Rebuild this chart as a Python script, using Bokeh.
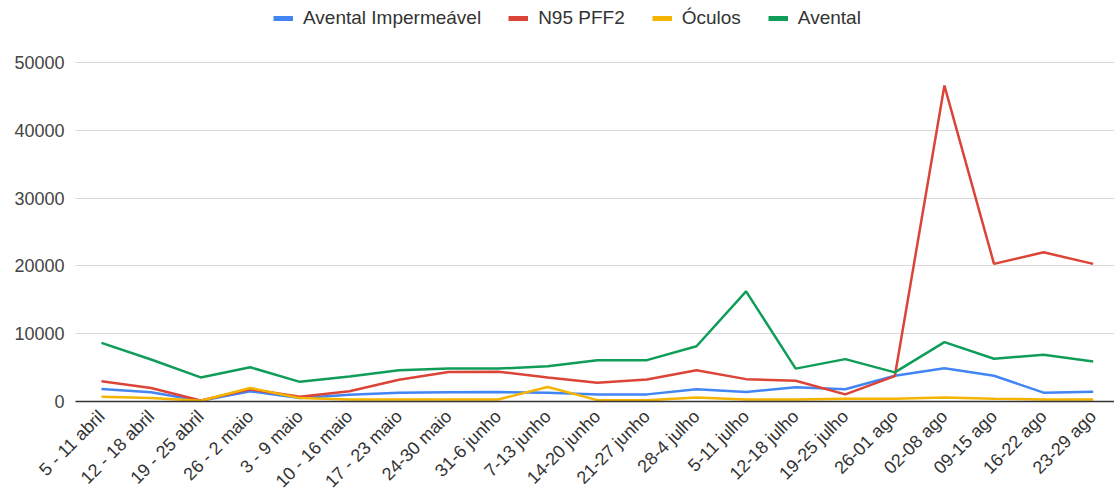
from bokeh.plotting import figure
from bokeh.models import (Range1d, FixedTicker, Legend, LegendItem, ColumnDataSource)
from bokeh.embed import file_html
from bokeh.resources import INLINE
import math

weeks = ["5 - 11 abril", "12 - 18 abril", "19 - 25 abril", "26 - 2 maio", "3 - 9 maio",
         "10 - 16 maio", "17 - 23 maio", "24-30 maio", "31-6 junho", "7-13 junho",
         "14-20 junho", "21-27 junho", "28-4 julho", "5-11 julho", "12-18 julho",
         "19-25 julho", "26-01 ago", "02-08 ago", "09-15 ago", "16-22 ago", "23-29 ago"]

avental_impermeavel = [1850, 1350, 100, 1500, 500, 1000, 1300, 1350, 1400, 1300, 1050,
                       1050, 1800, 1400, 2100, 1800, 3800, 4900, 3800, 1300, 1450]
n95_pff2 = [3000, 2000, 150, 1800, 700, 1500, 3200, 4350, 4400, 3550, 2750,
            3250, 4600, 3300, 3050, 1050, 3750, 46600, 20300, 22000, 20300]
oculos = [700, 500, 100, 2000, 500, 300, 300, 300, 300, 2150, 200,
          200, 600, 300, 300, 400, 400, 600, 400, 300, 300]
avental = [8650, 6200, 3550, 5050, 2900, 3700, 4600, 4850, 4850, 5200, 6100,
           6100, 8150, 16250, 4850, 6250, 4300, 8750, 6300, 6900, 5900]

series_names = ["Avental Impermeável", "N95 PFF2", "Óculos", "Avental"]
series_values = [avental_impermeavel, n95_pff2, oculos, avental]
colors = ["#4285F4", "#DB4437", "#F4B400", "#0F9D58"]
y_ticks = [0, 10000, 20000, 30000, 40000, 50000]

idx = list(range(len(weeks)))

# frame spans the full top of the figure so the legend sits inside it;
# the value axis shows ticks only up to 50000
y_top = 50000 * 401 / 339

p = figure(frame_width=1039, frame_height=401, output_backend="svg", toolbar_location=None,
           x_range=Range1d(-0.524, 20.43), y_range=Range1d(0, y_top),
           min_border_left=75, min_border_right=0, min_border_top=0, min_border_bottom=80)
p.outline_line_color = None
p.background_fill_color = "white"

# axes
p.yaxis.ticker = FixedTicker(ticks=y_ticks)
p.yaxis.axis_line_color = None
p.yaxis.major_tick_line_color = None
p.yaxis.major_tick_out = 0
p.yaxis.major_tick_in = 0
p.yaxis.minor_tick_line_color = None
p.yaxis.major_label_text_font = "Liberation Sans"
p.yaxis.major_label_text_font_size = "18px"
p.yaxis.major_label_text_color = "#444444"
p.yaxis.major_label_standoff = 11

p.xaxis.ticker = FixedTicker(ticks=idx)
p.xaxis.major_label_overrides = {i: w for i, w in enumerate(weeks)}
p.xaxis.major_label_orientation = math.pi / 4
p.xaxis.axis_line_color = "#333333"
p.xaxis.axis_line_width = 1.5
p.xaxis.major_tick_line_color = None
p.xaxis.major_tick_out = 0
p.xaxis.major_tick_in = 0
p.xaxis.minor_tick_line_color = None
p.xaxis.minor_tick_out = 0
p.xaxis.major_label_text_font = "Liberation Sans"
p.xaxis.major_label_text_font_size = "18px"
p.xaxis.major_label_text_color = "#333333"
p.xaxis.major_label_standoff = 12

p.xgrid.grid_line_color = None
p.ygrid.ticker = FixedTicker(ticks=y_ticks)
p.ygrid.grid_line_color = "#d9d9d9"
p.ygrid.grid_line_width = 1

items = []
for name, vals, col in zip(series_names, series_values, colors):
    src = ColumnDataSource(dict(x=idx, y=vals))
    p.line("x", "y", source=src, line_color=col, line_width=2.5)
    dummy = p.line(x=[0], y=[-1000], line_color=col, line_width=5)
    items.append(LegendItem(label=name, renderers=[dummy]))

legend = Legend(items=items, orientation="horizontal", location=(198, 372),
                border_line_color=None, background_fill_alpha=0,
                label_text_font="Liberation Sans", label_text_font_size="19px",
                label_text_color="#333333", glyph_width=20, glyph_height=22,
                label_height=22, label_standoff=10, spacing=27, padding=0, margin=0)
p.add_layout(legend, "center")

open("out.html", "w").write(file_html(p, INLINE))
